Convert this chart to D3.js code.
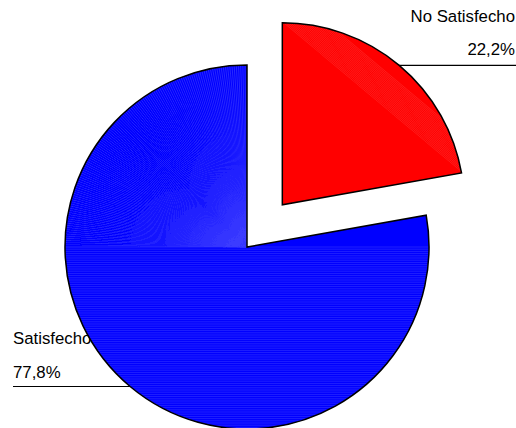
<!DOCTYPE html>
<html>
<head>
<meta charset="utf-8">
<script src="https://cdn.jsdelivr.net/npm/d3@7"></script>
<style>
  html, body { margin: 0; padding: 0; background: #fff; }
  svg { display: block; }
  text { font-family: "Liberation Sans", Arial, sans-serif; font-size: 16.8px; fill: #000; }
</style>
</head>
<body>
<svg id="chart" width="516" height="428"></svg>
<script>
// Satisfaction split
const categories = ["No Satisfecho", "Satisfecho"];
const values = [22.2, 77.8];
const valueLabels = ["22,2%", "77,8%"];
const colors = ["#ff0000", "#0000ff"];

const W = 516, H = 428;
const cx = 247, cy = 247, R = 182;
const explode = [55, 0];

const svg = d3.select("#chart");

const pie = d3.pie().sort(null).value(d => d)(values);
const arc = d3.arc().innerRadius(0).outerRadius(R);

function offsetOf(d, i) {
  const mid = (d.startAngle + d.endAngle) / 2;
  return [Math.sin(mid) * explode[i], -Math.cos(mid) * explode[i]];
}

// Labels with horizontal leader lines (drawn beneath the slices)
const labels = svg.append("g");
pie.forEach((d, i) => {
  const [ox, oy] = offsetOf(d, i);
  const mid = (d.startAngle + d.endAngle) / 2;
  const px = cx + ox + Math.sin(mid) * R;
  const py = cy + oy - Math.cos(mid) * R;
  const right = Math.sin(mid) > 0;
  const edgeX = right ? W : 13;
  const textX = right ? W - 1 : 13;
  labels.append("line")
    .attr("x1", px).attr("y1", py)
    .attr("x2", edgeX).attr("y2", py)
    .attr("stroke", "#000").attr("stroke-width", 1.2);
  labels.append("text")
    .attr("x", textX).attr("y", py - (right ? 10 : 9))
    .attr("text-anchor", right ? "end" : "start")
    .text(valueLabels[i]);
  labels.append("text")
    .attr("x", textX).attr("y", py - (right ? 43 : 42.5))
    .attr("text-anchor", right ? "end" : "start")
    .text(categories[i]);
});

// Slices
const slices = svg.append("g");
pie.forEach((d, i) => {
  const [ox, oy] = offsetOf(d, i);
  const g = slices.append("g").attr("transform", `translate(${cx + ox},${cy + oy})`);
  const clipId = "clip" + i;
  g.append("clipPath").attr("id", clipId).append("path").attr("d", arc(d));
  g.append("path").attr("d", arc(d)).attr("fill", colors[i]);

  const tex = g.append("g").attr("clip-path", `url(#${clipId})`);
  if (i === 1) {
    // horizontal shading strokes in the lower half
    for (let y = 0; y <= R; y += 2.2) {
      tex.append("line").attr("x1", -R).attr("x2", R).attr("y1", y).attr("y2", y)
        .attr("stroke", "#3a3aff").attr("stroke-width", 0.7).attr("opacity", 0.8);
    }
    // radial shading strokes in the upper-left quarter
    for (let a = -Math.PI / 2; a <= 0; a += 0.012) {
      tex.append("line").attr("x1", 0).attr("y1", 0)
        .attr("x2", Math.sin(a) * R * 1.05).attr("y2", -Math.cos(a) * R * 1.05)
        .attr("stroke", "#4444ff").attr("stroke-width", 0.7).attr("opacity", 0.85);
    }
  } else {
    // diagonal shading strokes along the outer segment
    const a1 = d.endAngle;
    const x1 = Math.sin(a1) * R, y1 = -Math.cos(a1) * R;
    const len = Math.hypot(x1, y1 + R);
    const ux = x1 / len, uy = (y1 + R) / len;
    const nx = uy, ny = -ux;
    for (let t = 1; t < 30; t += 1.4) {
      tex.append("line")
        .attr("x1", 0 + nx * t - ux * 20).attr("y1", -R + ny * t - uy * 20)
        .attr("x2", x1 + nx * t + ux * 20).attr("y2", y1 + ny * t + uy * 20)
        .attr("stroke", "#ff4a4a").attr("stroke-width", 0.5).attr("opacity", 0.8);
    }
  }
  g.append("path").attr("d", arc(d))
    .attr("fill", "none").attr("stroke", "#000").attr("stroke-width", 1.5)
    .attr("stroke-linejoin", "miter");
});
</script>
</body>
</html>
